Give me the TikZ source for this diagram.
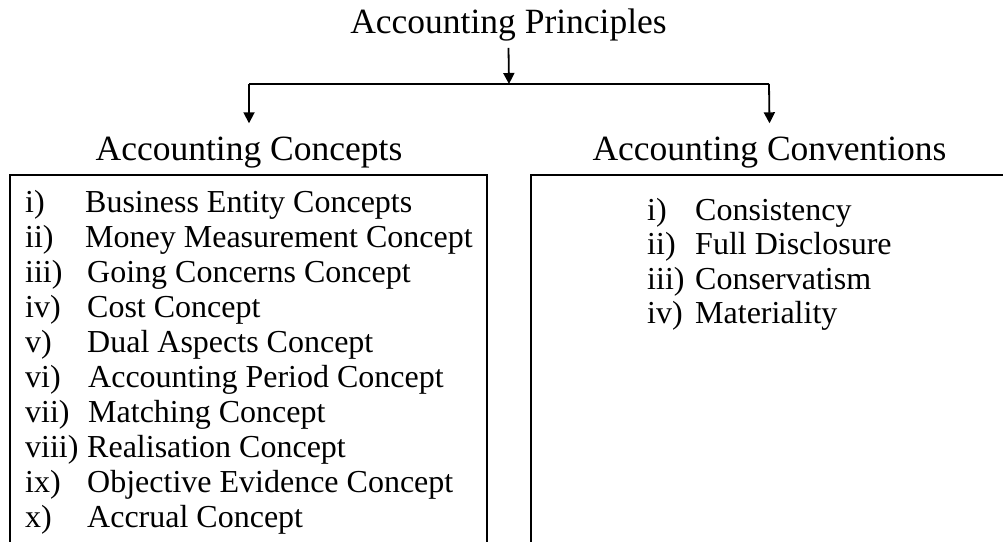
\documentclass[tikz,border=0pt]{standalone}
\usepackage{fontspec}
\setmainfont{Liberation Serif}
\usetikzlibrary{arrows.meta}
\begin{document}
\begin{tikzpicture}[x=1pt,y=-1pt,
  head/.style={font=\fontsize{35.5}{36}\selectfont, inner sep=0pt, anchor=base},
  item/.style={font=\fontsize{32}{32}\selectfont, inner sep=0pt, anchor=base west},
  frame/.style={line width=2pt, line cap=rect},
  conn/.style={line width=1.8pt},
  arr/.style={line width=1.8pt, -{Triangle[width=11pt,length=11pt]}}]
\useasboundingbox (0,0) rectangle (1003,541);

% headings
\node[head] (title) at (508.5,33) {Accounting Principles};
\node[head] (hc) at (249,160) {Accounting Concepts};
\node[head] (hv) at (769.5,160) {Accounting Conventions};

% connectors
\coordinate (j) at (509,84);
\coordinate (jl) at (249,84);
\coordinate (jr) at (769,84);
\draw[arr] ([yshift=-7pt]title.south) -- (j);
\draw[conn] (jl) -- (jr);
\draw[arr] (jl) -- ([yshift=13pt]hc.north);
\draw[arr] (jr) -- ([yshift=13pt]hv.north);

% boxes (open at the bottom)
\draw[frame] (10,545) -- (10,175) -- (487,175) -- (487,545);
\draw[frame] (531,545) -- (531,175) -- (1010,175);

% left list
\foreach \n/\y/\tx/\lab/\txt in {
  1/212/85/i)/Business Entity Concepts,
  2/247/85/ii)/Money Measurement Concept,
  3/282/87/iii)/Going Concerns Concept,
  4/317/87/iv)/Cost Concept,
  5/352/87/v)/Dual Aspects Concept,
  6/387/88/vi)/Accounting Period Concept,
  7/422/88/vii)/Matching Concept,
  8/457/87/viii)/Realisation Concept,
  9/492/87/ix)/Objective Evidence Concept,
  10/527/87/x)/Accrual Concept}{
  \node[item] (cl\n) at (25,\y) {\lab};
  \node[item] (ct\n) at (\tx,\y) {\txt};
}

% right list
\foreach \n/\y/\lab/\txt in {
  1/220/i)/Consistency,
  2/254.5/ii)/Full Disclosure,
  3/289/iii)/Conservatism,
  4/323.5/iv)/Materiality}{
  \node[item] (vl\n) at (647,\y) {\lab};
  \node[item] (vt\n) at (695,\y) {\txt};
}
\end{tikzpicture}
\end{document}
